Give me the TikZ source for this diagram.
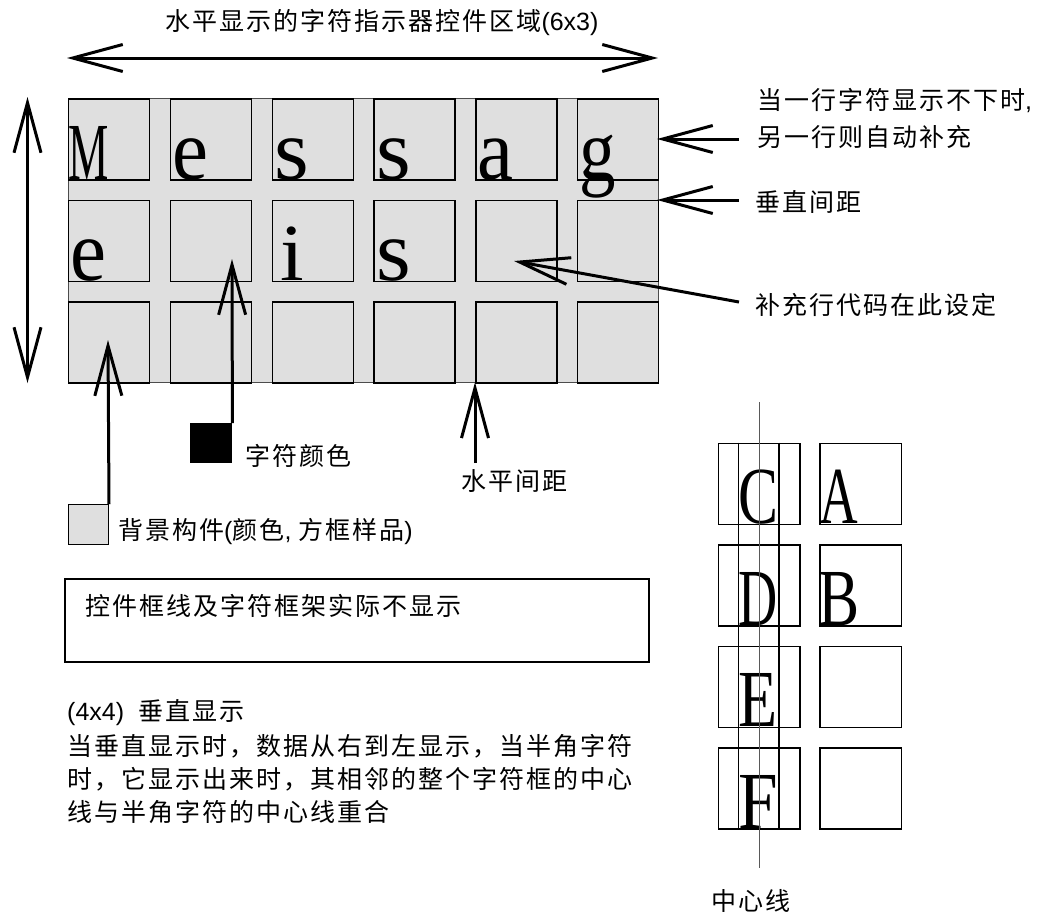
\documentclass[tikz,border=0pt]{standalone}
\usepackage{graphicx}
\usepackage{fontspec}
\usetikzlibrary{arrows.meta}
\newfontfamily\cjk[LetterSpace=8]{Noto Sans CJK SC}
\newfontfamily\lat{Liberation Sans}
\newfontfamily\ser{Liberation Serif}
\definecolor{cellgray}{HTML}{DFDFDF}
\newcommand\gl[2]{\scalebox{#1}[1]{#2}}
\newcommand\glv[3]{\scalebox{#1}[#2]{#3}}
\begin{document}
\begin{tikzpicture}[x=1pt,y=-1pt,
  barb/.tip={Straight Barb[length=50pt,width=27pt]},
  conn/.style={line width=3pt,-barb},
  dconn/.style={line width=3pt,barb-barb},
  cell/.style={draw=black,line width=1.3pt,minimum width=81pt,minimum height=81pt,inner sep=0pt,fill=cellgray,anchor=north west},
  vbox/.style={draw=black,line width=1.5pt,minimum width=81.6pt,minimum height=81pt,inner sep=0pt,anchor=north west},
  lbl/.style={inner sep=0pt,font=\cjk\fontsize{25}{27}\selectfont,anchor=west},
  big/.style={inner sep=0pt,anchor=base,font=\ser\fontsize{81}{81}\selectfont},
]
\useasboundingbox (0,0) rectangle (1045,914);

% ---------- horizontal control area ----------
\node[draw=black!70,line width=0.8pt,fill=cellgray,minimum width=590pt,minimum height=284pt,inner sep=0pt,anchor=north west] (area) at (68,98.3) {};
\foreach \r in {0,1,2}{
  \foreach \c in {0,...,5}{
    \node[cell] (c\r\c) at ({68+101.8*\c},{98.3+101.5*\r}) {};
  }
}
% letters row 1
\node[big] (lM) at (88.3,179.3) {\gl{0.56}{M}};
\node[big] (le1) at (190.1,179.3) {\glv{1}{1.07}{e}};
\node[big] (ls1) at (291.9,179.3) {\glv{1.1}{1.07}{s}};
\node[big] (ls2) at (393.7,179.3) {\glv{1.1}{1.07}{s}};
\node[big] (la) at (495.5,179.3) {\glv{1}{1.07}{a}};
\node[big] (lg) at (597.3,179.3) {\glv{0.9}{1.07}{g}};
% letters row 2
\node[big] (le2) at (88.3,280.8) {\glv{1}{1.07}{e}};
\node[big] (li) at (291.9,280.8) {\gl{1.05}{i}};
\node[big] (ls3) at (393.7,280.8) {\glv{1.1}{1.07}{s}};

% title and dimension arrows
\node[lbl,anchor=center] (title) at (382,22) {水平显示的字符指示器控件区域{\lat (6x3)}};
\coordinate (hl) at (67,58);
\coordinate (hr) at (658,58);
\draw[dconn] (hl) -- (hr);
\coordinate (vt) at (27.5,97);
\coordinate (vb) at (27.5,383);
\draw[dconn] (vt) -- (vb);

% right annotations
\node[lbl,align=left,font=\cjk\fontsize{25}{37}\selectfont] (t1) at (757,118.5) {当一行字符显示不下时{\lat ,}\\另一行则自动补充};
\node[lbl] (t2) at (755,202) {垂直间距};
\node[lbl] (t3) at (755,305) {补充行代码在此设定};
\coordinate (r1s) at (739,139);
\coordinate (r1t) at (657,139);
\coordinate (r2s) at (739,200);
\coordinate (r2t) at (657,200);
\coordinate (r3s) at (739,302);
\coordinate (r3t) at (514,261);
\draw[conn] (r1s) -- (r1t);
\draw[conn] (r2s) -- (r2t);
\draw[conn] (r3s) -- (r3t);

% bottom annotations
\node[draw=black,line width=1pt,fill=cellgray,minimum width=40pt,minimum height=40pt,inner sep=0pt,anchor=north west] (bgs) at (68,504) {};
\node[fill=black,minimum width=42pt,minimum height=40pt,inner sep=0pt,anchor=north west] (fgs) at (190,423) {};
\coordinate (a1t) at (108,340);
\coordinate (a2t) at (232,259);
\coordinate (a3s) at (475,463);
\coordinate (a3t) at (475,382.3);
\draw[conn] (bgs.north east) -- (a1t);
\draw[conn] (fgs.north east) -- (a2t);
\draw[conn] (a3s) -- (a3t);
\node[lbl] (fgl) at (245,456) {字符颜色};
\node[lbl] (hsl) at (461,481) {水平间距};
\node[lbl] (bgl) at (118,532) {背景构件{\lat (}颜色{\lat ,\ }方框样品{\lat )}};

\node[draw=black,line width=2.2pt,minimum width=584pt,minimum height=83pt,inner sep=0pt,anchor=north west] (note) at (64,577.5) {};
\node[lbl] (notet) at (85,606) {控件框线及字符框架实际不显示};

\node[lbl] (p1) at (67,713) {{\lat (4x4)\ \ }垂直显示};
\node[lbl] (p2) at (67,746) {当垂直显示时，数据从右到左显示，当半角字符};
\node[lbl] (p3) at (67,779) {时，它显示出来时，其相邻的整个字符框的中心};
\node[lbl] (p4) at (67,812) {线与半角字符的中心线重合};

% ---------- vertical display (4x4) ----------
\foreach \r in {0,1,2,3}{
  \node[vbox] (vl\r) at (717.7,{442.5+101.5*\r}) {};
  \node[vbox] (vr\r) at (819.3,{442.5+101.5*\r}) {};
}
\coordinate (ia) at (738.5,442.5);
\coordinate (ib) at (738.5,827.5);
\coordinate (ic) at (779,442.5);
\coordinate (id) at (779,827.5);
\draw[line width=1.2pt] (ia) -- (ib);
\draw[line width=1.2pt] (ic) -- (id);
\node[big] (lC) at (758.5,523.5) {\gl{0.74}{C}};
\node[big] (lD) at (758.5,625) {\gl{0.67}{D}};
\node[big] (lE) at (758.5,726.5) {\gl{0.79}{E}};
\node[big] (lF) at (758.5,828) {\gl{0.88}{F}};
\node[big] (lA) at (839,523.5) {\gl{0.66}{A}};
\node[big] (lB) at (839,625) {\gl{0.76}{B}};
\coordinate (cltop) at (759,402);
\coordinate (clbot) at (759,868);
\draw[line width=1pt,black!65] (cltop) -- (clbot);
\node[lbl,anchor=center] (cll) at (751,901) {中心线};
\end{tikzpicture}
\end{document}
